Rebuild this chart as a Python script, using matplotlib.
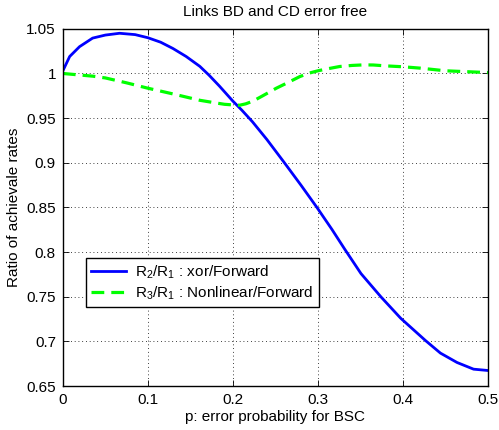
import matplotlib
matplotlib.use("Agg")
from matplotlib import pyplot as plt

# values
p_xor = [0.0, 0.008, 0.0196, 0.035, 0.05, 0.0667, 0.085, 0.1, 0.115, 0.1294,
         0.145, 0.161, 0.172, 0.184, 0.2, 0.2104, 0.2229, 0.24, 0.2598, 0.28,
         0.2988, 0.3164, 0.331, 0.3506, 0.374, 0.3973, 0.4265, 0.444, 0.4635,
         0.483, 0.5]
r2_r1 = [1.003, 1.019, 1.030, 1.0396, 1.043, 1.045, 1.0435, 1.040, 1.035,
         1.028, 1.019, 1.008, 0.998, 0.986, 0.969, 0.959, 0.946, 0.926, 0.901,
         0.875, 0.850, 0.8255, 0.804, 0.776, 0.750, 0.726, 0.701, 0.687,
         0.6765, 0.669, 0.6675]

p_nl = [0.0, 0.035, 0.05, 0.075, 0.1, 0.13, 0.161, 0.18, 0.19, 0.2, 0.208,
        0.215, 0.2235, 0.235, 0.251, 0.265, 0.2786, 0.29, 0.3, 0.31, 0.3255,
        0.34, 0.353, 0.365, 0.38, 0.4, 0.42, 0.45, 0.475, 0.5]
r3_r1 = [1.0, 0.997, 0.995, 0.9895, 0.9835, 0.977, 0.970, 0.967, 0.9655,
         0.9648, 0.9645, 0.966, 0.969, 0.975, 0.9835, 0.990, 0.9965, 1.0005,
         1.003, 1.005, 1.0078, 1.009, 1.0096, 1.0095, 1.0085, 1.0075, 1.006,
         1.003, 1.002, 1.001]

plt.rcParams['font.family'] = ['Liberation Sans', 'DejaVu Sans']
plt.rcParams['font.size'] = 11
plt.rcParams['mathtext.fontset'] = 'custom'
plt.rcParams['mathtext.rm'] = 'Liberation Sans'
plt.rcParams['mathtext.it'] = 'Liberation Sans'

fig = plt.figure(figsize=(4.99, 4.30), dpi=100)
ax = fig.add_axes([0.126, 0.102, 0.852, 0.831])

ax.plot(p_xor, r2_r1, color=(0, 0, 1), linewidth=2.0,
        label=r'R$_2$/R$_1$ : xor/Forward')
ax.plot(p_nl, r3_r1, color=(0, 1, 0), linewidth=2.3, linestyle=(0, (4, 2.2)),
        label=r'R$_3$/R$_1$ : Nonlinear/Forward')

ax.set_xlim(0, 0.5)
ax.set_ylim(0.65, 1.05)
ax.set_xticks([0, 0.1, 0.2, 0.3, 0.4, 0.5])
ax.set_xticklabels(['0', '0.1', '0.2', '0.3', '0.4', '0.5'])
ax.set_yticks([0.65, 0.7, 0.75, 0.8, 0.85, 0.9, 0.95, 1.0, 1.05])
ax.set_yticklabels(['0.65', '0.7', '0.75', '0.8', '0.85', '0.9', '0.95', '1', '1.05'])
ax.tick_params(direction='in', top=True, right=True, length=4, width=0.6,
               labelsize=11, pad=5)
ax.grid(True, color='black', linestyle=(0, (1, 3.5)), linewidth=0.6)
for s in ax.spines.values():
    s.set_linewidth(1.0)

ax.set_title('Links BD and CD error free', fontsize=11, pad=9)
ax.set_xlabel('p: error probability for BSC', labelpad=2)
ax.set_ylabel('Ratio of achievale rates', labelpad=4)

leg = ax.legend(loc='lower left', bbox_to_anchor=(0.054, 0.221),
                fancybox=False, edgecolor='black', framealpha=1,
                borderaxespad=0, handlelength=2.3, labelspacing=0.25,
                borderpad=0.35, handletextpad=0.6, fontsize=11)
leg.get_frame().set_linewidth(1.0)

plt.savefig('out.png', dpi=100)
plt.close()
